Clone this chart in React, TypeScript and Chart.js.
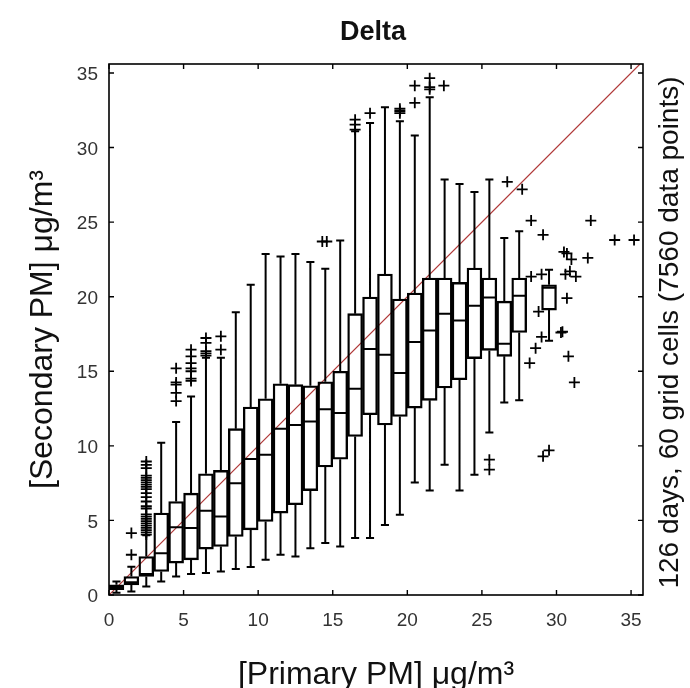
import React, { useEffect, useRef } from "react";
import { Chart, registerables } from "chart.js";

Chart.register(...registerables);

// ---- data ----
const binCenters = [
  0.5, 1.5, 2.5, 3.5, 4.5, 5.5, 6.5, 7.5, 8.5, 9.5, 10.5, 11.5, 12.5, 13.5, 14.5,
  15.5, 16.5, 17.5, 18.5, 19.5, 20.5, 21.5, 22.5, 23.5, 24.5, 25.5, 26.5, 27.5, 29.5,
];
const whiskerLow = [
  0.15, 0.23, 0.57, 0.9, 1.24, 1.4, 1.47, 1.58, 1.74, 1.87, 2.36, 2.7, 2.58, 3.14, 3.48,
  3.25, 3.82, 3.82, 4.7, 5.38, 7.55, 7.0, 8.73, 7.0, 8.06, 10.9, 12.9, 13.05, 17.05,
];
const quartile1 = [
  0.35, 0.68, 1.24, 1.58, 2.14, 2.36, 3.08, 3.25, 3.92, 4.37, 4.93, 5.49, 6.05, 7.0, 8.58,
  9.1, 10.63, 12.09, 11.4, 11.97, 12.53, 13.05, 13.88, 14.43, 15.85, 16.4, 16.0, 17.6, 19.1,
];
const medians = [
  0.5, 0.85, 1.4, 2.8, 4.55, 4.49, 5.65, 5.26, 7.5, 9.11, 9.4, 11.15, 11.4, 11.64, 12.46,
  12.2, 13.83, 16.5, 16.1, 14.88, 16.96, 17.74, 18.86, 18.4, 19.4, 19.95, 16.85, 20.06, 20.6,
];
const quartile3 = [
  0.68, 1.24, 2.58, 5.5, 6.27, 6.83, 8.13, 8.35, 11.15, 12.6, 13.16, 14.16, 14.1, 14.03, 14.3,
  15.0, 18.86, 19.98, 21.52, 19.84, 20.25, 21.25, 21.25, 20.96, 21.92, 21.25, 19.7, 21.25, 20.8,
];
const whiskerHigh = [
  0.9, 1.9, 4.0, 10.2, 11.6, 13.3, 15.9, 15.9, 18.95, 20.8, 22.86, 22.7, 22.86, 22.33, 21.88,
  23.76, 31.09, 31.65, 32.7, 31.76, 30.8, 33.37, 27.85, 27.56, 27.02, 27.85, 23.94, 24.38, 21.8,
];

const outlierX = [
  1.5, 1.5,
  2.5, 2.5, 2.5, 2.5, 2.5, 2.5, 2.5, 2.5, 2.5, 2.5, 2.5, 2.5, 2.5, 2.5, 2.5, 2.5, 2.5, 2.5,
  2.5, 2.5, 2.5, 2.5, 2.5, 2.5, 2.5,
  4.5, 4.5, 4.5, 4.5, 4.5,
  5.5, 5.5, 5.5, 5.5, 5.5, 5.5, 5.5,
  6.5, 6.5, 6.5, 6.5, 6.5,
  7.5, 7.5,
  14.3, 14.6,
  16.5, 16.5, 16.5,
  17.5,
  19.5, 19.5, 19.5,
  20.5, 20.5,
  21.5, 21.5, 21.5,
  22.45,
  25.5, 25.5,
  26.7, 27.7, 28.3, 29.1, 32.3, 33.9, 35.2, 30.5, 30.7, 31.0, 32.1, 28.3, 29.0, 30.6,
  30.9, 31.3, 28.8, 30.7, 29.0, 30.3, 30.4, 28.6, 28.2, 30.8, 31.2, 29.1, 29.5,
];
const outlierY = [
  2.7, 4.15,
  4.05, 4.2, 4.35, 4.5, 4.65, 4.8, 4.95, 5.1, 5.25, 5.4, 5.8, 5.95, 6.27, 6.56, 6.83, 7.1,
  7.25, 7.4, 7.55, 7.7, 7.85, 8.0, 8.5, 8.73, 8.95,
  13.0, 13.55, 14.1, 14.25, 15.2,
  14.35, 14.5, 15.0, 15.2, 15.55, 16.0, 16.45,
  16.05, 16.2, 16.35, 16.9, 17.23,
  16.45, 17.34,
  23.7, 23.7,
  31.2, 31.54, 31.87,
  32.3,
  32.3, 32.45, 32.6,
  33.0, 34.15,
  33.9, 34.05, 34.65,
  34.15,
  9.07, 8.4,
  27.7, 27.2, 25.1, 24.15, 25.1, 23.8, 23.8, 23.0, 22.9, 22.5, 22.6, 21.35, 21.5, 21.5,
  21.7, 21.35, 19.0, 19.9, 17.3, 17.6, 17.65, 16.55, 15.55, 16.0, 14.25, 9.3, 9.7,
];

const diagonalX = [0, 35.6];
const diagonalY = [0, 35.6];

const xTickValues = [0, 5, 10, 15, 20, 25, 30, 35];
const yTickValues = [0, 5, 10, 15, 20, 25, 30, 35];
const X_MAX = 35.8;
const Y_MAX = 35.6;

const chartTitle = "Delta";
const xTitle = "[Primary PM] μg/m³";
const yTitle = "[Secondary PM] μg/m³";
const rightTitle = "126 days, 60 grid cells (7560 data points)";

// ---- styles ----
const FONT = "'Liberation Sans', Arial, Helvetica, sans-serif";
const CAP_HALF = 0.27;
const MEDIAN_HALF = 0.48;

const framePlugin = {
  id: "frame",
  afterDatasetsDraw(chart: any) {
    const { ctx, chartArea: a, scales } = chart;
    ctx.save();
    ctx.strokeStyle = "#000";
    ctx.lineWidth = 1.6;
    ctx.strokeRect(a.left, a.top, a.right - a.left, a.bottom - a.top);
    const L = 5;
    ctx.lineWidth = 1.4;
    ctx.beginPath();
    scales.x.ticks.forEach((t: any) => {
      const px = scales.x.getPixelForValue(t.value);
      ctx.moveTo(px, a.bottom);
      ctx.lineTo(px, a.bottom - L);
      ctx.moveTo(px, a.top);
      ctx.lineTo(px, a.top + L);
    });
    scales.y.ticks.forEach((t: any) => {
      const py = scales.y.getPixelForValue(t.value);
      ctx.moveTo(a.left, py);
      ctx.lineTo(a.left + L, py);
      ctx.moveTo(a.right, py);
      ctx.lineTo(a.right - L, py);
    });
    ctx.stroke();
    ctx.restore();
  },
  afterDraw(chart: any) {
    const { ctx, chartArea: a } = chart;
    ctx.save();
    ctx.fillStyle = "#111";
    ctx.textAlign = "center";
    ctx.textBaseline = "middle";
    ctx.font = `bold 27px ${FONT}`;
    ctx.fillText(chartTitle, (a.left + a.right) / 2 - 3, 33);
    ctx.font = `28px ${FONT}`;
    ctx.translate(a.right + 27, (a.top + a.bottom) / 2 + 3);
    ctx.rotate(-Math.PI / 2);
    ctx.fillText(rightTitle, 0, 0);
    ctx.restore();
  },
};

export default function App() {
  const ref = useRef<HTMLCanvasElement | null>(null);

  useEffect(() => {
    document.body.style.margin = "0";
    const canvas = ref.current;
    if (!canvas) return;

    const boxData = binCenters.map((x, i) => ({ x, y: [quartile1[i], quartile3[i]] }));
    const whiskerData: any[] = [];
    const capData: any[] = [];
    const medianData: any[] = [];
    binCenters.forEach((x, i) => {
      whiskerData.push(
        { x, y: whiskerLow[i] }, { x, y: quartile1[i] }, { x, y: null },
        { x, y: quartile3[i] }, { x, y: whiskerHigh[i] }, { x, y: null }
      );
      capData.push(
        { x: x - CAP_HALF, y: whiskerLow[i] }, { x: x + CAP_HALF, y: whiskerLow[i] }, { x, y: null },
        { x: x - CAP_HALF, y: whiskerHigh[i] }, { x: x + CAP_HALF, y: whiskerHigh[i] }, { x, y: null }
      );
      medianData.push(
        { x: x - MEDIAN_HALF, y: medians[i] }, { x: x + MEDIAN_HALF, y: medians[i] }, { x, y: null }
      );
    });
    const outliers = outlierX.map((x, i) => ({ x, y: outlierY[i] }));
    const diagonal = diagonalX.map((x, i) => ({ x, y: diagonalY[i] }));

    const lineStyle = {
      borderColor: "#000",
      borderWidth: 2,
      pointRadius: 0,
      spanGaps: false,
      tension: 0,
      fill: false,
    };

    const chart = new Chart(canvas, {
      type: "bar",
      data: {
        datasets: [
          {
            type: "scatter",
            label: "outliers",
            data: outliers,
            pointStyle: "cross",
            pointRadius: 5.5,
            borderColor: "#000",
            backgroundColor: "#000",
            borderWidth: 1.8,
            order: 0,
          } as any,
          { type: "line", label: "medians", data: medianData, ...lineStyle, order: 1 } as any,
          { type: "line", label: "caps", data: capData, ...lineStyle, order: 2 } as any,
          { type: "line", label: "whiskers", data: whiskerData, ...lineStyle, order: 3 } as any,
          {
            type: "bar",
            label: "boxes",
            data: boxData,
            backgroundColor: "rgba(0,0,0,0)",
            borderColor: "#000",
            borderWidth: 1.7,
            borderSkipped: false,
            barPercentage: 1,
            categoryPercentage: 1,
            order: 4,
          } as any,
          {
            type: "line",
            label: "1:1",
            data: diagonal,
            borderColor: "#b03838",
            borderWidth: 1.2,
            pointRadius: 0,
            fill: false,
            order: 5,
          } as any,
        ],
      },
      options: {
        responsive: false,
        devicePixelRatio: 1,
        animation: false,
        events: [],
        layout: { padding: { top: 64, right: 47, left: 0, bottom: 0 } },
        plugins: {
          legend: { display: false },
          tooltip: { enabled: false },
          title: { display: false },
        },
        scales: {
          x: {
            type: "linear",
            min: 0,
            max: X_MAX,
            offset: false,
            grid: { display: false, drawTicks: false, offset: false },
            border: { display: false },
            afterBuildTicks: (s: any) => {
              s.ticks = xTickValues.map((v) => ({ value: v }));
            },
            ticks: {
              color: "#333",
              font: { family: FONT, size: 19 },
              padding: 14,
              maxRotation: 0,
              autoSkip: false,
            },
            title: {
              display: true,
              text: xTitle,
              color: "#111",
              font: { family: FONT, size: 32, lineHeight: 1 },
              padding: { top: 0, bottom: -3 },
            },
            afterFit: (s: any) => {
              s.height = 93;
            },
          },
          y: {
            type: "linear",
            min: 0,
            max: Y_MAX,
            grid: { display: false, drawTicks: false },
            border: { display: false },
            afterBuildTicks: (s: any) => {
              s.ticks = yTickValues.map((v) => ({ value: v }));
            },
            ticks: {
              color: "#333",
              font: { family: FONT, size: 19 },
              padding: 11,
              labelOffset: 2,
              autoSkip: false,
            },
            title: {
              display: true,
              text: yTitle,
              color: "#111",
              font: { family: FONT, size: 32, lineHeight: 1 },
              padding: { top: 27, bottom: 0 },
            },
            afterFit: (s: any) => {
              s.width = 109;
            },
          },
        },
      } as any,
      plugins: [framePlugin],
    });

    return () => chart.destroy();
  }, []);

  return (
    <div style={{ position: "absolute", left: 0, top: 0, width: 690, height: 688, background: "#fff" }}>
      <canvas ref={ref} width={690} height={688} style={{ display: "block", width: 690, height: 688 }} />
    </div>
  );
}
